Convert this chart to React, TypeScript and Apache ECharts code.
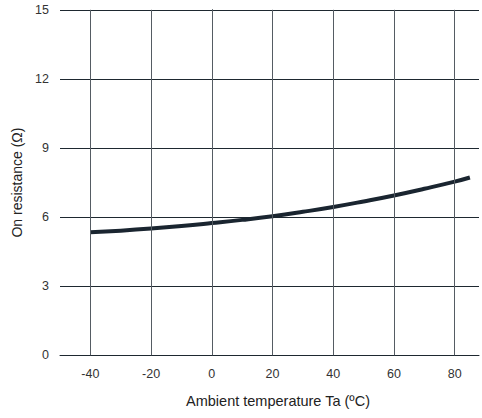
import React, { useEffect, useRef } from "react";
import * as echarts from "echarts";

const temps = [-40, -30, -20, -10, 0, 10, 20, 30, 40, 50, 60, 70, 80, 85];
const resistance = [5.34, 5.41, 5.5, 5.61, 5.74, 5.88, 6.04, 6.23, 6.44, 6.68, 6.94, 7.23, 7.54, 7.72];
const xGridTicks = [-40, -20, 0, 20, 40, 60, 80];
const yTicks = [0, 3, 6, 9, 12, 15];

export default function App() {
  const ref = useRef<HTMLDivElement>(null);
  useEffect(() => {
    if (!ref.current) return;
    const chart = echarts.init(ref.current, null, { renderer: "svg" });
    const font = "Liberation Sans, Arial, sans-serif";
    chart.setOption({
      animation: false,
      grid: { left: 60, right: 0, top: 9.8, bottom: 62.7 },
      xAxis: {
        type: "value",
        min: -50,
        max: 88,
        interval: 10,
        name: "Ambient temperature Ta (ºC)",
        nameLocation: "middle",
        nameGap: 38,
        nameTextStyle: { fontSize: 14.5, color: "#222", fontFamily: font, padding: [0, 0, 0, 17] },
        axisLine: { show: true, lineStyle: { color: "#1e2830", width: 1 } },
        axisTick: { show: false },
        splitLine: { show: false },
        axisLabel: {
          margin: 12,
          fontSize: 12.5,
          color: "#333",
          fontFamily: font,
          formatter: (v: number) => (xGridTicks.includes(v) ? String(v) : ""),
        },
      },
      yAxis: {
        type: "value",
        min: yTicks[0],
        max: yTicks[yTicks.length - 1],
        interval: 3,
        name: "On resistance (Ω)",
        nameLocation: "middle",
        nameGap: 35,
        nameTextStyle: { fontSize: 14, color: "#222", fontFamily: font },
        axisLine: { show: true, lineStyle: { color: "#1e2830", width: 1 } },
        axisTick: { show: false },
        splitLine: { show: true, lineStyle: { color: "#1e2830", width: 1 } },
        axisLabel: { margin: 11, fontSize: 12.5, color: "#333", fontFamily: font },
      },
      series: [
        {
          type: "line",
          data: temps.map((t, i) => [t, resistance[i]]),
          smooth: true,
          showSymbol: false,
          lineStyle: { color: "#1a2530", width: 4 },
          markLine: {
            silent: true,
            symbol: "none",
            label: { show: false },
            lineStyle: { color: "#555c63", width: 1, type: "solid" },
            data: xGridTicks.map((x) => ({ xAxis: x })),
          },
          z: 3,
        },
      ],
    });
    return () => chart.dispose();
  }, []);
  return (
    <div
      ref={ref}
      style={{ position: "absolute", left: 0, top: 0, width: 482, height: 418 }}
    />
  );
}
